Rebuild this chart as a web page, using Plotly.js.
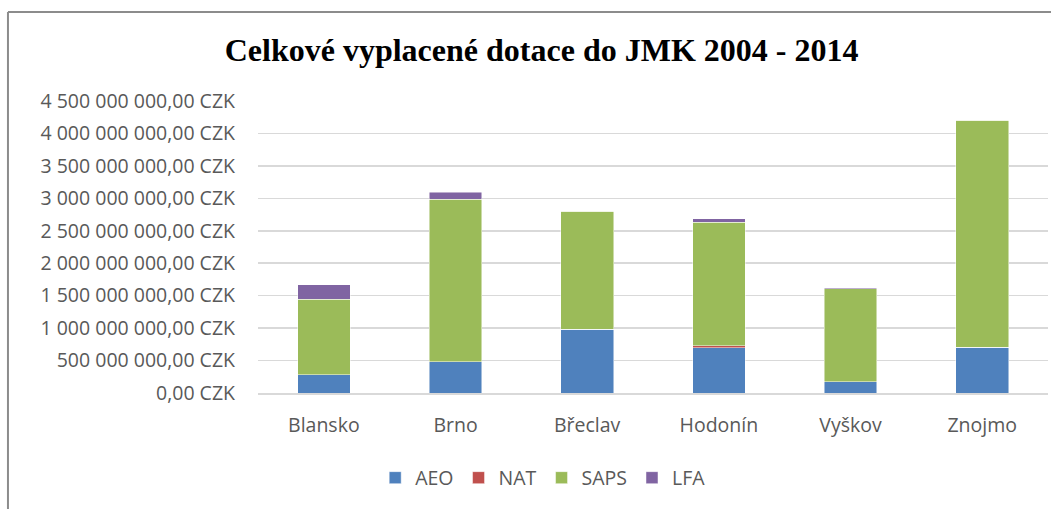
<!DOCTYPE html>
<html>
<head>
<meta charset="utf-8">
<script src="https://cdn.plot.ly/plotly-3.0.1.min.js"></script>
<style>html,body{margin:0;padding:0;background:#fff;}#chart{width:1064px;height:509px;}</style>
</head>
<body>
<div id="chart"></div>
<script>
const categories = ["Blansko", "Brno", "Břeclav", "Hodonín", "Vyškov", "Znojmo"];
const aeo  = [280e6, 483e6, 983e6, 700e6, 175e6, 705e6];
const nat  = [0, 0, 0, 28e6, 0, 0];
const saps = [1165e6, 2506e6, 1815e6, 1900e6, 1430e6, 3495e6];
const lfa  = [225e6, 108e6, 5e6, 57e6, 15e6, 5e6];
const tickVals = [0, 5e8, 1e9, 1.5e9, 2e9, 2.5e9, 3e9, 3.5e9, 4e9, 4.5e9];
const tickText = ["0,00 CZK", "500 000 000,00 CZK", "1 000 000 000,00 CZK", "1 500 000 000,00 CZK",
  "2 000 000 000,00 CZK", "2 500 000 000,00 CZK", "3 000 000 000,00 CZK", "3 500 000 000,00 CZK",
  "4 000 000 000,00 CZK", "4 500 000 000,00 CZK"];

const mk = (name, y, color) => ({
  type: "bar", name: name, x: categories, y: y,
  marker: {color: color, line: {color: "rgba(255,255,255,0.6)", width: 0.8}},
  hoverinfo: "x+y+name"
});
const data = [
  mk("AEO", aeo, "#4F81BD"),
  mk("NAT", nat, "#C0504D"),
  mk("SAPS", saps, "#9BBB59"),
  mk("LFA", lfa, "#8064A2")
];
const font = "Open Sans, Liberation Sans, sans-serif";
const layout = {
  width: 1064, height: 509,
  paper_bgcolor: "#fff", plot_bgcolor: "#fff",
  barmode: "stack", bargap: 0.6,
  margin: {l: 258, r: 16, t: 101, b: 116},
  title: {text: "<b>Celkové vyplacené dotace do JMK 2004 - 2014</b>",
    font: {family: "Liberation Serif, Times New Roman, serif", size: 32, color: "#000"},
    x: 0.509, xanchor: "center", y: 0.902, yanchor: "middle"},
  xaxis: {tickfont: {family: font, size: 19.5, color: "#595959"}, showgrid: false,
    showline: true, linecolor: "#D9D9D9", linewidth: 1.5, ticks: "", ticklabelstandoff: 14},
  yaxis: {range: [0, 4.5e9], tickvals: tickVals, ticktext: tickText,
    tickfont: {family: font, size: 19.5, color: "#595959"},
    gridcolor: "#D9D9D9", gridwidth: 1.5, zeroline: false, showline: false,
    ticks: "", ticklabelstandoff: 22},
  showlegend: true,
  legend: {orientation: "h", x: 0.361, xanchor: "center", y: -0.291, yanchor: "middle",
    font: {family: font, size: 19.5, color: "#595959"}, traceorder: "normal",
    itemwidth: 30, itemclick: false},
  shapes: [
    {type: "line", xref: "paper", yref: "paper", x0: -0.3165, x1: -0.3165, y0: -0.4, y1: 1.3048,
      line: {color: "#8c8c8c", width: 2}},
    {type: "line", xref: "paper", yref: "paper", x0: -0.3165, x1: 1.0038, y0: 1.3048, y1: 1.3048,
      line: {color: "#8c8c8c", width: 2}}
  ]
};
Plotly.newPlot("chart", data, layout, {displayModeBar: false, staticPlot: true});
</script>
</body>
</html>
